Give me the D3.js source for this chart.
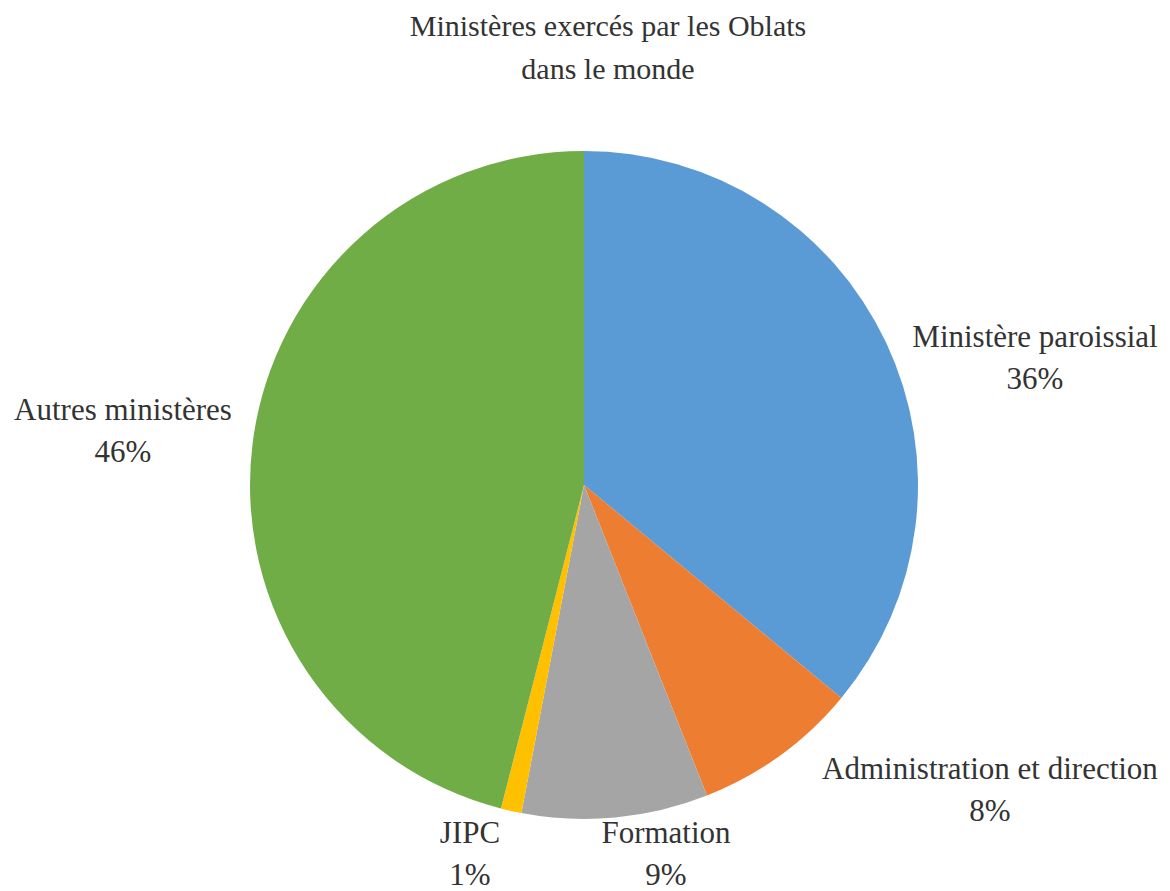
<!DOCTYPE html>
<html>
<head>
<meta charset="UTF-8">
<script src="https://cdn.jsdelivr.net/npm/d3@7"></script>
<style>
  svg, svg text { font-family: "Liberation Serif", "Times New Roman", Tinos, serif; }
</style>
</head>
<body style="margin:0">
<svg width="1170" height="891" font-family="Liberation Serif, Times New Roman, serif"></svg>
<script>
// data
var categories = ["Ministère paroissial", "Administration et direction", "Formation", "JIPC", "Autres ministères"];
var values = [36, 8, 9, 1, 46];
var colours = ["#5B9BD5", "#ED7D31", "#A5A5A5", "#FFC000", "#70AD47"];
var titleLines = ["Ministères exercés par les Oblats", "dans le monde"];
// label anchor points (centre of first line baseline)
var labelPos = [[1035, 347], [990, 779], [666, 843], [470, 843], [123, 420]];

var svg = d3.select("svg");
var cx = 584, cy = 485, r = 334;

var pie = d3.pie().sort(null).value(function (d) { return d; });
var arc = d3.arc().innerRadius(0).outerRadius(r);

svg.append("g")
    .attr("transform", "translate(" + cx + "," + cy + ")")
    .selectAll("path")
    .data(pie(values))
    .enter()
    .append("path")
    .attr("d", arc)
    .attr("fill", function (d, i) { return colours[i]; });

// every text line is its own <text>
var lines = [];
titleLines.forEach(function (t, i) {
    lines.push({ t: t, x: 608, y: 36 + i * 43, s: 30 });
});
categories.forEach(function (c, i) {
    lines.push({ t: c, x: labelPos[i][0], y: labelPos[i][1], s: 31 });
    lines.push({ t: values[i] + "%", x: labelPos[i][0], y: labelPos[i][1] + 42, s: 31 });
});

svg.selectAll("text.lbl")
    .data(lines)
    .enter()
    .append("text")
    .attr("class", "lbl")
    .attr("x", function (d) { return d.x; })
    .attr("y", function (d) { return d.y; })
    .attr("font-size", function (d) { return d.s; })
    .attr("font-family", "Liberation Serif, Times New Roman, serif")
    .attr("text-anchor", "middle")
    .attr("fill", "#333")
    .style("font-family", function () { return "\"Liberation Serif\""; })
    .text(function (d) { return d.t; });
</script>
</body>
</html>
